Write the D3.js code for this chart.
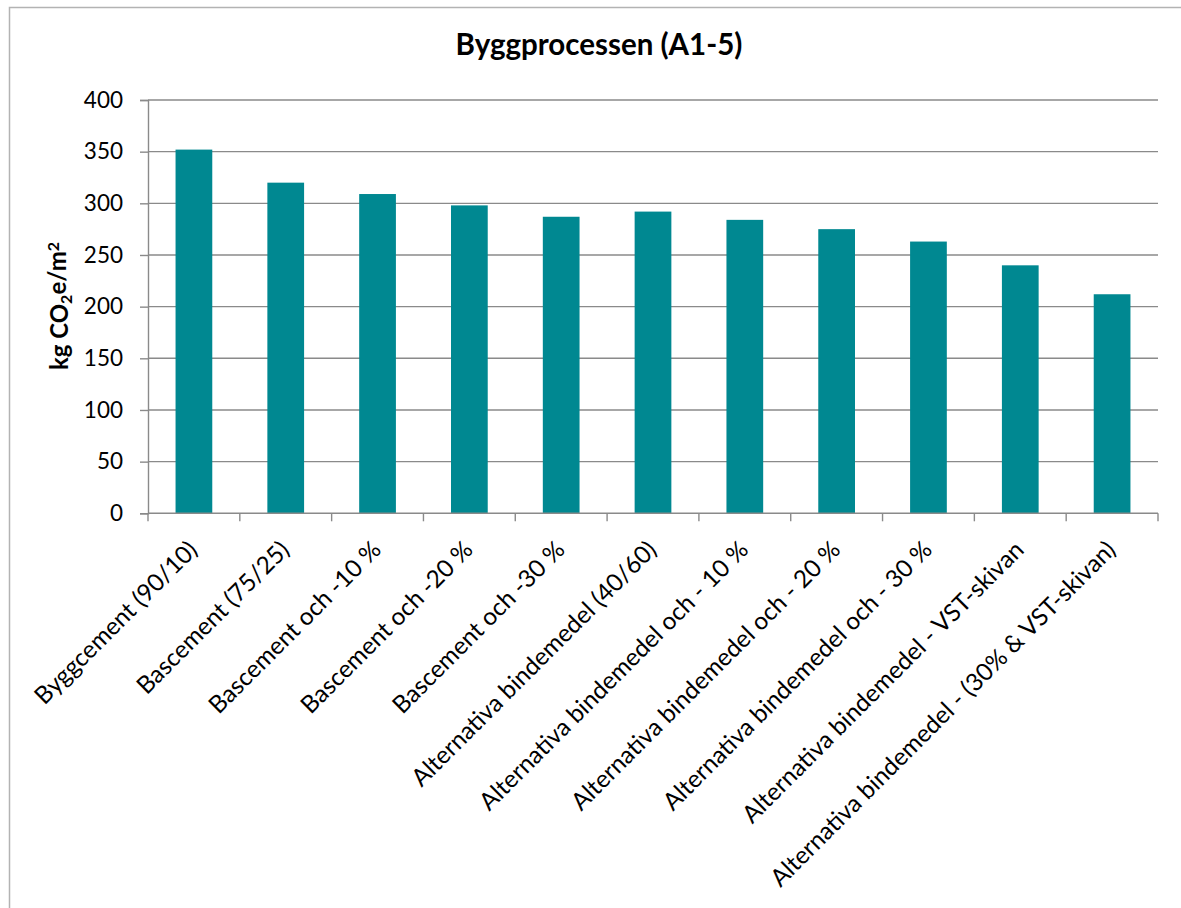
<!DOCTYPE html>
<html>
<head>
<meta charset="utf-8">
<script src="https://cdn.jsdelivr.net/npm/d3@7"></script>
<style>
  html, body { margin: 0; padding: 0; background: #fff; }
  svg { display: block; }
  text { font-family: Lato, "Open Sans", sans-serif; fill: #000; }
</style>
</head>
<body>
<svg id="chart" width="1181" height="908"></svg>
<script>
// Construction-stage emissions (A1-5) per binder alternative
const categories = [
  "Byggcement (90/10)",
  "Bascement (75/25)",
  "Bascement och -10 %",
  "Bascement och -20 %",
  "Bascement och -30 %",
  "Alternativa bindemedel (40/60)",
  "Alternativa bindemedel och - 10 %",
  "Alternativa bindemedel och - 20 %",
  "Alternativa bindemedel och - 30 %",
  "Alternativa bindemedel - VST-skivan",
  "Alternativa bindemedel - (30% & VST-skivan)"
];
const values = [352, 320, 309, 298, 287, 292, 284, 275, 263, 240, 212];
const yTicks = [0, 50, 100, 150, 200, 250, 300, 350, 400];
const chartTitle = "Byggprocessen (A1-5)";

const svg = d3.select("#chart");
const margin = { left: 148, right: 1158, top: 100, bottom: 513.3 };

// chart frame
svg.append("rect")
  .attr("x", 9.5).attr("y", 7.5)
  .attr("width", 1200).attr("height", 1000)
  .attr("fill", "none").attr("stroke", "#b3b3b3").attr("stroke-width", 1.5);

const x = d3.scaleBand()
  .domain(categories)
  .range([margin.left, margin.right])
  .paddingInner(0).paddingOuter(0);

const y = d3.scaleLinear()
  .domain([0, 400])
  .range([margin.bottom, margin.top]);

// horizontal gridlines
svg.append("g")
  .selectAll("line")
  .data(yTicks.filter(d => d > 0))
  .join("line")
  .attr("x1", margin.left).attr("x2", margin.right)
  .attr("y1", d => y(d)).attr("y2", d => y(d))
  .attr("stroke", "#8a8a8a").attr("stroke-width", 1.4);

// bars: Excel-style gap width of 150 %
const barW = x.bandwidth() / 2.5;
svg.append("g")
  .selectAll("rect")
  .data(values)
  .join("rect")
  .attr("x", (d, i) => x(categories[i]) + (x.bandwidth() - barW) / 2)
  .attr("y", d => y(d))
  .attr("width", barW)
  .attr("height", d => y(0) - y(d))
  .attr("fill", "#008891");

// y axis
const yAxis = d3.axisLeft(y)
  .tickValues(yTicks)
  .tickSize(8)
  .tickPadding(17)
  .tickFormat(d3.format("d"));
const gy = svg.append("g")
  .attr("transform", `translate(${margin.left},0)`)
  .call(yAxis);
gy.select(".domain").attr("stroke", "#8a8a8a").attr("stroke-width", 1.4);
gy.selectAll(".tick line").attr("stroke", "#8a8a8a").attr("stroke-width", 1.4);
gy.selectAll(".tick text")
  .style("font-size", "22.5px")
  .style("font-family", "Lato, sans-serif")
  .attr("fill", "#000");

// x axis: ticks between categories
const gx = svg.append("g")
  .attr("transform", `translate(0,${margin.bottom})`);
gx.append("line")
  .attr("x1", margin.left).attr("x2", margin.right)
  .attr("stroke", "#8a8a8a").attr("stroke-width", 1.4);
const boundaries = categories.map(c => x(c)).concat([margin.right]);
gx.selectAll("line.tk")
  .data(boundaries)
  .join("line")
  .attr("class", "tk")
  .attr("x1", d => d).attr("x2", d => d)
  .attr("y1", 0).attr("y2", 8)
  .attr("stroke", "#8a8a8a").attr("stroke-width", 1.4);

gx.selectAll("text.lbl")
  .data(categories)
  .join("text")
  .attr("class", "lbl")
  .attr("text-anchor", "end")
  .attr("transform", d => `translate(${x(d) + x.bandwidth() / 2 - 1},${32}) rotate(-45)`)
  .attr("dy", "0.35em")
  .style("font-size", "24.3px")
  .text(d => d);

// title
svg.append("text")
  .attr("x", 599).attr("y", 55)
  .attr("text-anchor", "middle")
  .style("font-size", "29.5px")
  .style("font-weight", "bold")
  .text(chartTitle);

// y axis title with subscript / superscript
const yt = svg.append("text")
  .attr("transform", "translate(68,306) rotate(-90)")
  .attr("text-anchor", "middle")
  .style("font-size", "24px")
  .style("font-weight", "bold");
yt.append("tspan").text("kg CO");
yt.append("tspan").attr("dy", "0.25em").style("font-size", "16px").text("2");
yt.append("tspan").attr("dy", "-0.25em").text("e/m");
yt.append("tspan").attr("dy", "-0.45em").style("font-size", "16px").text("2");
</script>
</body>
</html>
